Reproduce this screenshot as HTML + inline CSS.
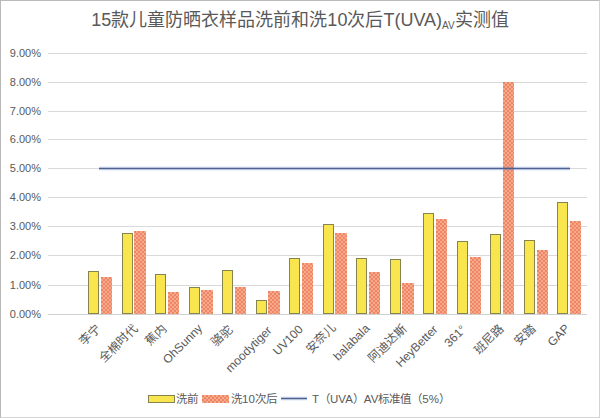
<!DOCTYPE html>
<html lang="zh-CN"><head><meta charset="utf-8"><title>15款儿童防晒衣样品洗前和洗10次后T(UVA)AV实测值</title>
<style>
html,body{margin:0;padding:0;background:#fff;}
body{width:600px;height:418px;position:relative;overflow:hidden;font-family:"Liberation Sans",sans-serif;color:#595959;}
.frame{position:absolute;left:0;top:0;width:598px;height:416px;border:1px solid #d3d3d3;border-top-color:#bababa;border-left-color:#bababa;}
.title{position:absolute;left:0;width:600px;top:8.5px;text-align:center;font-size:18px;line-height:22px;color:#595959;white-space:nowrap;}
.title sub{font-size:10px;vertical-align:-3px;line-height:0;}
.g{position:absolute;left:48px;width:539px;height:1px;background:#d9d9d9;}
.axis{position:absolute;left:48px;width:539px;height:1px;background:#d0d0d0;top:314px;}
.yl{position:absolute;right:559px;font-size:11px;line-height:14px;white-space:nowrap;color:#595959;}
.by{position:absolute;box-sizing:border-box;border:1px solid #858450;background:#f9e54e;}
.br{position:absolute;background-color:#ee8565;background-image:conic-gradient(#f7a98b 25%,transparent 0 50%,#f7a98b 0 75%,transparent 0);background-size:4px 4px;}
.tl{position:absolute;left:99px;width:470.5px;top:166px;height:5px;background:linear-gradient(rgba(120,150,220,.12) 0 20%,rgba(70,100,170,.38) 20% 40%,#4f6190 40% 60%,rgba(70,100,170,.38) 60% 80%,rgba(120,150,220,.12) 80%);}
.xl{position:absolute;font-size:12px;line-height:13px;white-space:nowrap;transform-origin:100% 0;transform:rotate(-45deg);color:#595959;}
.xc{font-size:12px;}
.leg{position:absolute;top:391.5px;font-size:11.5px;line-height:14px;white-space:nowrap;color:#595959;}
</style></head><body>
<div class="frame"></div>
<div class="title">15款儿童防晒衣样品洗前和洗10次后T(UVA)<sub>AV</sub>实测值</div>
<div class="g" style="top:285px"></div><div class="g" style="top:255px"></div><div class="g" style="top:226px"></div><div class="g" style="top:197px"></div><div class="g" style="top:168px"></div><div class="g" style="top:139px"></div><div class="g" style="top:111px"></div><div class="g" style="top:82px"></div><div class="g" style="top:53px"></div>
<div class="axis"></div>
<div class="yl" style="top:306.5px">0.00%</div><div class="yl" style="top:277.5px">1.00%</div><div class="yl" style="top:247.5px">2.00%</div><div class="yl" style="top:218.5px">3.00%</div><div class="yl" style="top:189.5px">4.00%</div><div class="yl" style="top:160.5px">5.00%</div><div class="yl" style="top:131.5px">6.00%</div><div class="yl" style="top:103.5px">7.00%</div><div class="yl" style="top:74.5px">8.00%</div><div class="yl" style="top:45.5px">9.00%</div>
<div class="by" style="left:88px;top:270.86px;width:11px;height:43.14px"></div><div class="br" style="left:100.8px;top:276.94px;width:11.2px;height:37.06px"></div><div class="by" style="left:121.52px;top:232.65px;width:11px;height:81.35px"></div><div class="br" style="left:134.32px;top:231.49px;width:11.2px;height:82.51px"></div><div class="by" style="left:155.04px;top:273.76px;width:11px;height:40.24px"></div><div class="br" style="left:167.84px;top:291.71px;width:11.2px;height:22.29px"></div><div class="by" style="left:188.56px;top:286.79px;width:11px;height:27.21px"></div><div class="br" style="left:201.36px;top:290.26px;width:11.2px;height:23.74px"></div><div class="by" style="left:222.08px;top:270px;width:11px;height:44px"></div><div class="br" style="left:234.88px;top:286.5px;width:11.2px;height:27.5px"></div><div class="by" style="left:255.6px;top:300.1px;width:11px;height:13.9px"></div><div class="br" style="left:268.4px;top:291.13px;width:11.2px;height:22.87px"></div><div class="by" style="left:289.12px;top:257.55px;width:11px;height:56.45px"></div><div class="br" style="left:301.92px;top:263.34px;width:11.2px;height:50.66px"></div><div class="by" style="left:322.64px;top:224.25px;width:11px;height:89.75px"></div><div class="br" style="left:335.44px;top:233.23px;width:11.2px;height:80.77px"></div><div class="by" style="left:356.16px;top:257.55px;width:11px;height:56.45px"></div><div class="br" style="left:368.96px;top:271.73px;width:11.2px;height:42.27px"></div><div class="by" style="left:389.68px;top:259px;width:11px;height:55px"></div><div class="br" style="left:402.48px;top:282.73px;width:11.2px;height:31.27px"></div><div class="by" style="left:423.2px;top:212.96px;width:11px;height:101.04px"></div><div class="br" style="left:436px;top:218.75px;width:11.2px;height:95.25px"></div><div class="by" style="left:456.72px;top:241.05px;width:11px;height:72.95px"></div><div class="br" style="left:469.52px;top:257.26px;width:11.2px;height:56.74px"></div><div class="by" style="left:490.24px;top:234.39px;width:11px;height:79.61px"></div><div class="br" style="left:503.04px;top:82.4px;width:11.2px;height:231.6px"></div><div class="by" style="left:523.76px;top:239.6px;width:11px;height:74.4px"></div><div class="br" style="left:536.56px;top:250.02px;width:11.2px;height:63.98px"></div><div class="by" style="left:557.28px;top:201.96px;width:11px;height:112.04px"></div><div class="br" style="left:570.08px;top:221.07px;width:11.2px;height:92.93px"></div>
<div class="tl"></div>
<div class="xl xc" style="right:506.44px;top:322px">李宁</div><div class="xl xc" style="right:468.72px;top:322.4px">全棉时代</div><div class="xl xc" style="right:440.4px;top:321.5px">蕉内</div><div class="xl" style="right:403.58px;top:321.9px">OhSunny</div><div class="xl xc" style="right:373.76px;top:323px">骆驼</div><div class="xl" style="right:334.54px;top:324.4px">moodytiger</div><div class="xl" style="right:303.12px;top:322.6px">UV100</div><div class="xl xc" style="right:271.3px;top:321.1px">安奈儿</div><div class="xl" style="right:236.48px;top:322px">balabala</div><div class="xl xc" style="right:200.36px;top:322.3px">阿迪达斯</div><div class="xl" style="right:168.74px;top:323px">HeyBetter</div><div class="xl" style="right:139.72px;top:322.5px">361°</div><div class="xl xc" style="right:102.9px;top:321.6px">班尼路</div><div class="xl xc" style="right:71.18px;top:322px">安踏</div><div class="xl" style="right:36.86px;top:322.2px">GAP</div>
<div class="by" style="left:148px;top:395px;width:27px;height:7.5px"></div>
<div class="leg" style="left:176px">洗前</div>
<div class="br" style="left:202px;top:395px;width:27px;height:7.5px"></div>
<div class="leg" style="left:231px">洗10次后</div>
<div class="tl" style="left:281px;top:396px;width:26px"></div>
<div class="leg" style="left:312px">T（UVA）AV标准值（5%）</div>
</body></html>
